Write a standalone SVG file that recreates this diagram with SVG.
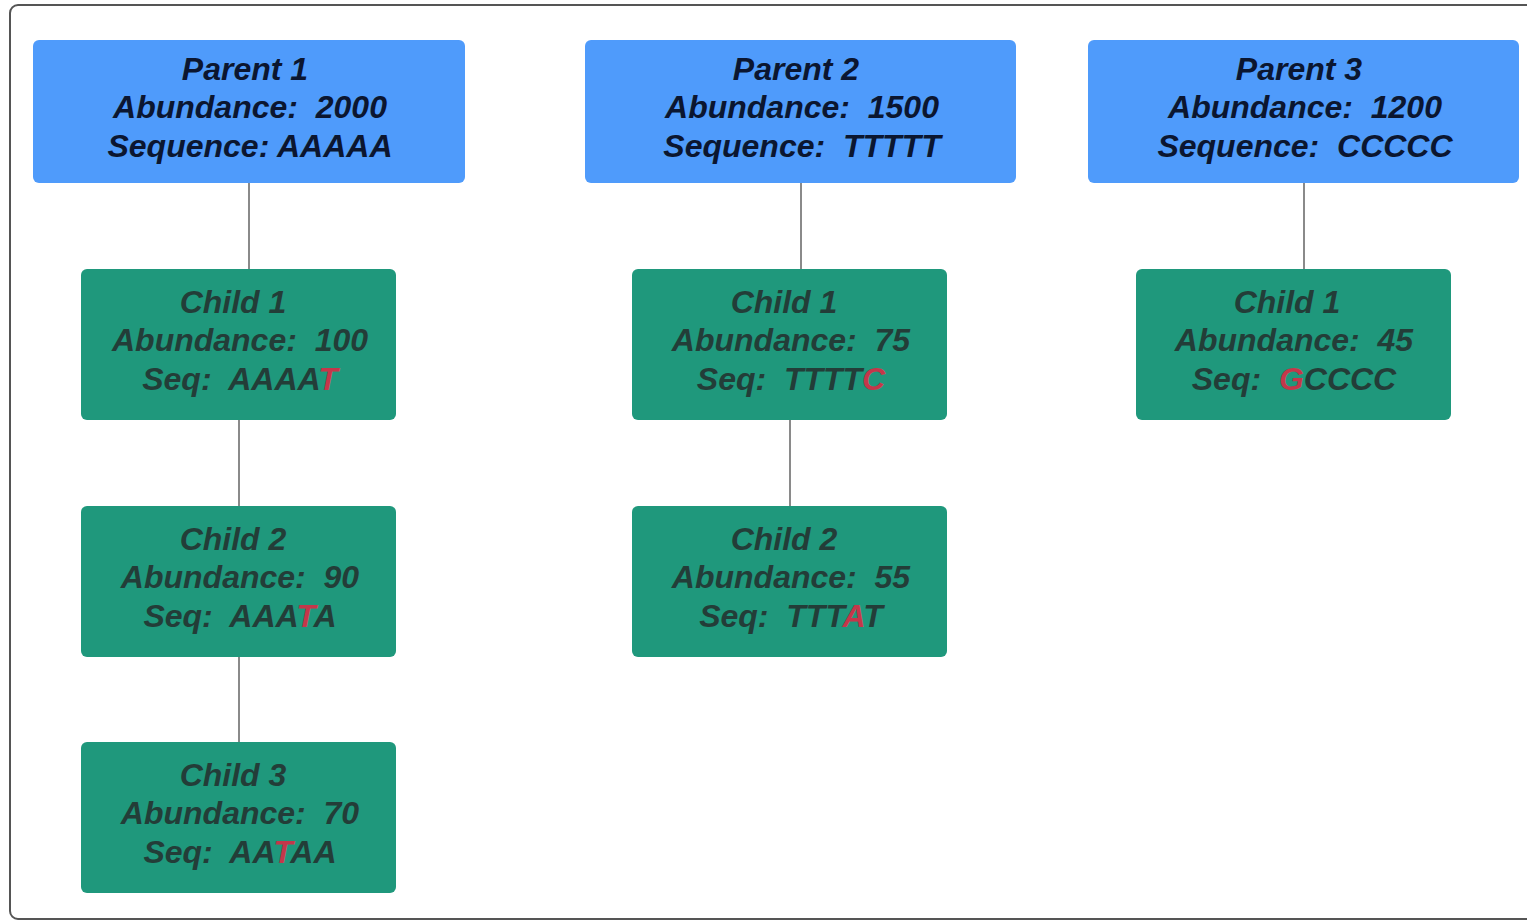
<svg xmlns="http://www.w3.org/2000/svg" width="1527" height="922" viewBox="0 0 1527 922">
<style>
.frame{fill:#ffffff;stroke:#555555;stroke-width:2}
.parent{fill:#4f9bfb}
.child{fill:#1f987c}
.conn{stroke:#8a8a8a;stroke-width:2;fill:none}
.pt{font-family:"Liberation Sans",Arial,sans-serif;font-size:32px;font-weight:bold;font-style:italic;fill:#0b1630;text-anchor:middle}
.ct{font-family:"Liberation Sans",Arial,sans-serif;font-size:32px;font-weight:bold;font-style:italic;fill:#233d38;text-anchor:middle}
.red{fill:#c4374a}
</style>
<rect width="1527" height="922" fill="#ffffff"/>
<rect class="frame" x="10" y="5" width="1540" height="914" rx="8"/>
<g id="connectors">
<line class="conn" x1="249" y1="183" x2="249" y2="269"/>
<line class="conn" x1="239" y1="420" x2="239" y2="506"/>
<line class="conn" x1="239" y1="657" x2="239" y2="742"/>
<line class="conn" x1="801" y1="183" x2="801" y2="269"/>
<line class="conn" x1="790" y1="420" x2="790" y2="506"/>
<line class="conn" x1="1304" y1="183" x2="1304" y2="269"/>
</g>
<g id="parent1">
<rect class="parent" x="33" y="40" width="432" height="143" rx="6"/>
<text class="pt" xml:space="preserve"><tspan x="245" y="80">Parent 1</tspan><tspan x="250" y="118">Abundance:  2000</tspan><tspan x="250" y="157">Sequence: AAAAA</tspan></text>
</g>
<g id="parent2">
<rect class="parent" x="585" y="40" width="431" height="143" rx="6"/>
<text class="pt" xml:space="preserve"><tspan x="796" y="80">Parent 2</tspan><tspan x="802" y="118">Abundance:  1500</tspan><tspan x="802" y="157">Sequence:  TTTTT</tspan></text>
</g>
<g id="parent3">
<rect class="parent" x="1088" y="40" width="431" height="143" rx="6"/>
<text class="pt" xml:space="preserve"><tspan x="1299" y="80">Parent 3</tspan><tspan x="1305" y="118">Abundance:  1200</tspan><tspan x="1305" y="157">Sequence:  CCCCC</tspan></text>
</g>
<g id="p1child1">
<rect class="child" x="81" y="269" width="315" height="151" rx="6"/>
<text class="ct" xml:space="preserve"><tspan x="233" y="313">Child 1</tspan><tspan x="240" y="351">Abundance:  100</tspan><tspan x="240" y="390">Seq:  AAAA<tspan class="red">T</tspan></tspan></text>
</g>
<g id="p1child2">
<rect class="child" x="81" y="506" width="315" height="151" rx="6"/>
<text class="ct" xml:space="preserve"><tspan x="233" y="550">Child 2</tspan><tspan x="240" y="588">Abundance:  90</tspan><tspan x="240" y="627">Seq:  AAA<tspan class="red">T</tspan>A</tspan></text>
</g>
<g id="p1child3">
<rect class="child" x="81" y="742" width="315" height="151" rx="6"/>
<text class="ct" xml:space="preserve"><tspan x="233" y="786">Child 3</tspan><tspan x="240" y="824">Abundance:  70</tspan><tspan x="240" y="863">Seq:  AA<tspan class="red">T</tspan>AA</tspan></text>
</g>
<g id="p2child1">
<rect class="child" x="632" y="269" width="315" height="151" rx="6"/>
<text class="ct" xml:space="preserve"><tspan x="784" y="313">Child 1</tspan><tspan x="791" y="351">Abundance:  75</tspan><tspan x="791" y="390">Seq:  TTTT<tspan class="red">C</tspan></tspan></text>
</g>
<g id="p2child2">
<rect class="child" x="632" y="506" width="315" height="151" rx="6"/>
<text class="ct" xml:space="preserve"><tspan x="784" y="550">Child 2</tspan><tspan x="791" y="588">Abundance:  55</tspan><tspan x="791" y="627">Seq:  TTT<tspan class="red">A</tspan>T</tspan></text>
</g>
<g id="p3child1">
<rect class="child" x="1136" y="269" width="315" height="151" rx="6"/>
<text class="ct" xml:space="preserve"><tspan x="1287" y="313">Child 1</tspan><tspan x="1294" y="351">Abundance:  45</tspan><tspan x="1294" y="390">Seq:  <tspan class="red">G</tspan>CCCC</tspan></text>
</g>
</svg>
